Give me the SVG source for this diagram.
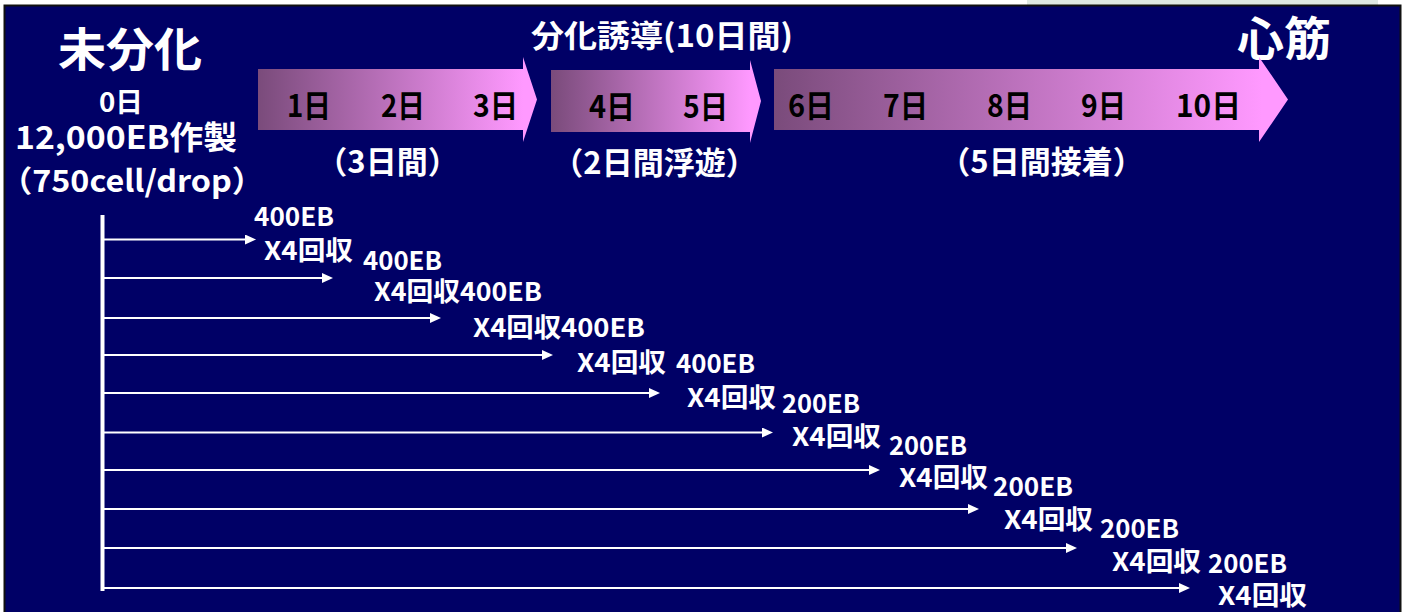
<svg xmlns="http://www.w3.org/2000/svg" width="1405" height="612" viewBox="0 0 1405 612">
<style>
.t{font-family:"Noto Sans CJK JP","Noto Sans CJK SC",sans-serif;font-weight:bold}
.w{fill:#ffffff}
.k{fill:#000000}
.lbl{font-size:26px}
.day{font-size:31px}
.sub{font-size:31px;text-anchor:middle}
.conn{stroke:#ffffff;stroke-width:2;fill:none}
</style>
<defs>
<linearGradient id="grad" x1="0" y1="0" x2="1" y2="0">
<stop offset="0" stop-color="#7A4B7B"/>
<stop offset="0.95" stop-color="#FF99FF"/>
<stop offset="1" stop-color="#FF99FF"/>
</linearGradient>
<marker id="ah" markerUnits="userSpaceOnUse" markerWidth="12" markerHeight="10" refX="5" refY="5" orient="auto">
<path d="M0,0 L11,5 L0,10 Z" fill="#ffffff"/>
</marker>
</defs>
<rect x="0" y="0" width="1405" height="612" fill="#ffffff"/>
<rect x="1027" y="0" width="351" height="6" fill="#dfe9e3"/>
<rect x="4.5" y="5.5" width="1396" height="620" fill="#000066" stroke="#111111" stroke-width="2"/>

<g id="undifferentiated">
<text class="t w" x="58" y="66" font-size="46" textLength="144" lengthAdjust="spacingAndGlyphs">未分化</text>
<text class="t w" x="99" y="112" font-size="27" textLength="44" lengthAdjust="spacingAndGlyphs">0日</text>
<text class="t w" x="15" y="149" font-size="32" textLength="222" lengthAdjust="spacingAndGlyphs">12,000EB作製</text>
<text class="t w" x="0" y="192" font-size="30" textLength="264" lengthAdjust="spacingAndGlyphs">（750cell/drop）</text>
</g>

<g id="title">
<text class="t w" x="531" y="47" font-size="31" textLength="262" lengthAdjust="spacingAndGlyphs">分化誘導(10日間)</text>
</g>

<g id="cardiac">
<text class="t w" x="1237" y="55" font-size="46" textLength="94" lengthAdjust="spacingAndGlyphs">心筋</text>
</g>

<g id="phase1">
<polygon points="258,69 523,69 523,57 537,99.5 523,142 523,130 258,130" fill="url(#grad)"/>
<text class="t k day" x="287" y="117" textLength="44" lengthAdjust="spacingAndGlyphs">1日</text>
<text class="t k day" x="381" y="117" textLength="44" lengthAdjust="spacingAndGlyphs">2日</text>
<text class="t k day" x="473" y="117" textLength="45" lengthAdjust="spacingAndGlyphs">3日</text>
<text class="t w sub" x="387.5" y="173">（3日間）</text>
</g>

<g id="phase2">
<polygon points="551,70 750,70 750,60 761,101 750,143 750,132 551,132" fill="url(#grad)"/>
<text class="t k day" x="589" y="118" textLength="46" lengthAdjust="spacingAndGlyphs">4日</text>
<text class="t k day" x="683" y="118" textLength="45" lengthAdjust="spacingAndGlyphs">5日</text>
<text class="t w sub" x="654.5" y="174">（2日間浮遊）</text>
</g>

<g id="phase3">
<polygon points="774,69 1259,69 1259,57 1288,99.5 1259,142 1259,130 774,130" fill="url(#grad)"/>
<text class="t k day" x="788" y="117" textLength="46" lengthAdjust="spacingAndGlyphs">6日</text>
<text class="t k day" x="883" y="117" textLength="45" lengthAdjust="spacingAndGlyphs">7日</text>
<text class="t k day" x="987" y="117" textLength="45" lengthAdjust="spacingAndGlyphs">8日</text>
<text class="t k day" x="1081" y="117" textLength="45" lengthAdjust="spacingAndGlyphs">9日</text>
<text class="t k day" x="1176" y="117" textLength="65" lengthAdjust="spacingAndGlyphs">10日</text>
<text class="t w sub" x="1041.5" y="173">（5日間接着）</text>
</g>

<g id="connectors">
<line x1="102.5" y1="215" x2="102.5" y2="591" stroke="#ffffff" stroke-width="4"/>
<line class="conn" x1="104" y1="239.5" x2="250" y2="239.5" marker-end="url(#ah)"/>
<line class="conn" x1="104" y1="278" x2="327" y2="278" marker-end="url(#ah)"/>
<line class="conn" x1="104" y1="318" x2="435" y2="318" marker-end="url(#ah)"/>
<line class="conn" x1="104" y1="355" x2="547" y2="355" marker-end="url(#ah)"/>
<line class="conn" x1="104" y1="393" x2="654" y2="393" marker-end="url(#ah)"/>
<line class="conn" x1="104" y1="432.5" x2="767" y2="432.5" marker-end="url(#ah)"/>
<line class="conn" x1="104" y1="470" x2="874" y2="470" marker-end="url(#ah)"/>
<line class="conn" x1="104" y1="509" x2="973" y2="509" marker-end="url(#ah)"/>
<line class="conn" x1="104" y1="548" x2="1071" y2="548" marker-end="url(#ah)"/>
<line class="conn" x1="104" y1="588" x2="1184" y2="588" marker-end="url(#ah)"/>
</g>

<g id="labels">
<text class="t w lbl" x="254" y="226" textLength="80" lengthAdjust="spacingAndGlyphs">400EB</text>
<text class="t w lbl" x="264" y="260" textLength="89" lengthAdjust="spacingAndGlyphs">X4回収</text>
<text class="t w lbl" x="363" y="270" textLength="79" lengthAdjust="spacingAndGlyphs">400EB</text>
<text class="t w lbl" x="374" y="301" textLength="168" lengthAdjust="spacingAndGlyphs">X4回収400EB</text>
<text class="t w lbl" x="473" y="337" textLength="172" lengthAdjust="spacingAndGlyphs">X4回収400EB</text>
<text class="t w lbl" x="577" y="372" textLength="89" lengthAdjust="spacingAndGlyphs">X4回収</text>
<text class="t w lbl" x="676" y="373" textLength="79" lengthAdjust="spacingAndGlyphs">400EB</text>
<text class="t w lbl" x="687" y="407" textLength="89" lengthAdjust="spacingAndGlyphs">X4回収</text>
<text class="t w lbl" x="782" y="413" textLength="78" lengthAdjust="spacingAndGlyphs">200EB</text>
<text class="t w lbl" x="792" y="446" textLength="89" lengthAdjust="spacingAndGlyphs">X4回収</text>
<text class="t w lbl" x="889" y="455" textLength="78" lengthAdjust="spacingAndGlyphs">200EB</text>
<text class="t w lbl" x="899" y="487" textLength="89" lengthAdjust="spacingAndGlyphs">X4回収</text>
<text class="t w lbl" x="993" y="496" textLength="80" lengthAdjust="spacingAndGlyphs">200EB</text>
<text class="t w lbl" x="1004" y="529" textLength="89" lengthAdjust="spacingAndGlyphs">X4回収</text>
<text class="t w lbl" x="1100" y="538" textLength="79" lengthAdjust="spacingAndGlyphs">200EB</text>
<text class="t w lbl" x="1112" y="571" textLength="89" lengthAdjust="spacingAndGlyphs">X4回収</text>
<text class="t w lbl" x="1208" y="573" textLength="79" lengthAdjust="spacingAndGlyphs">200EB</text>
<text class="t w lbl" x="1218" y="605" textLength="89" lengthAdjust="spacingAndGlyphs">X4回収</text>
</g>
</svg>
